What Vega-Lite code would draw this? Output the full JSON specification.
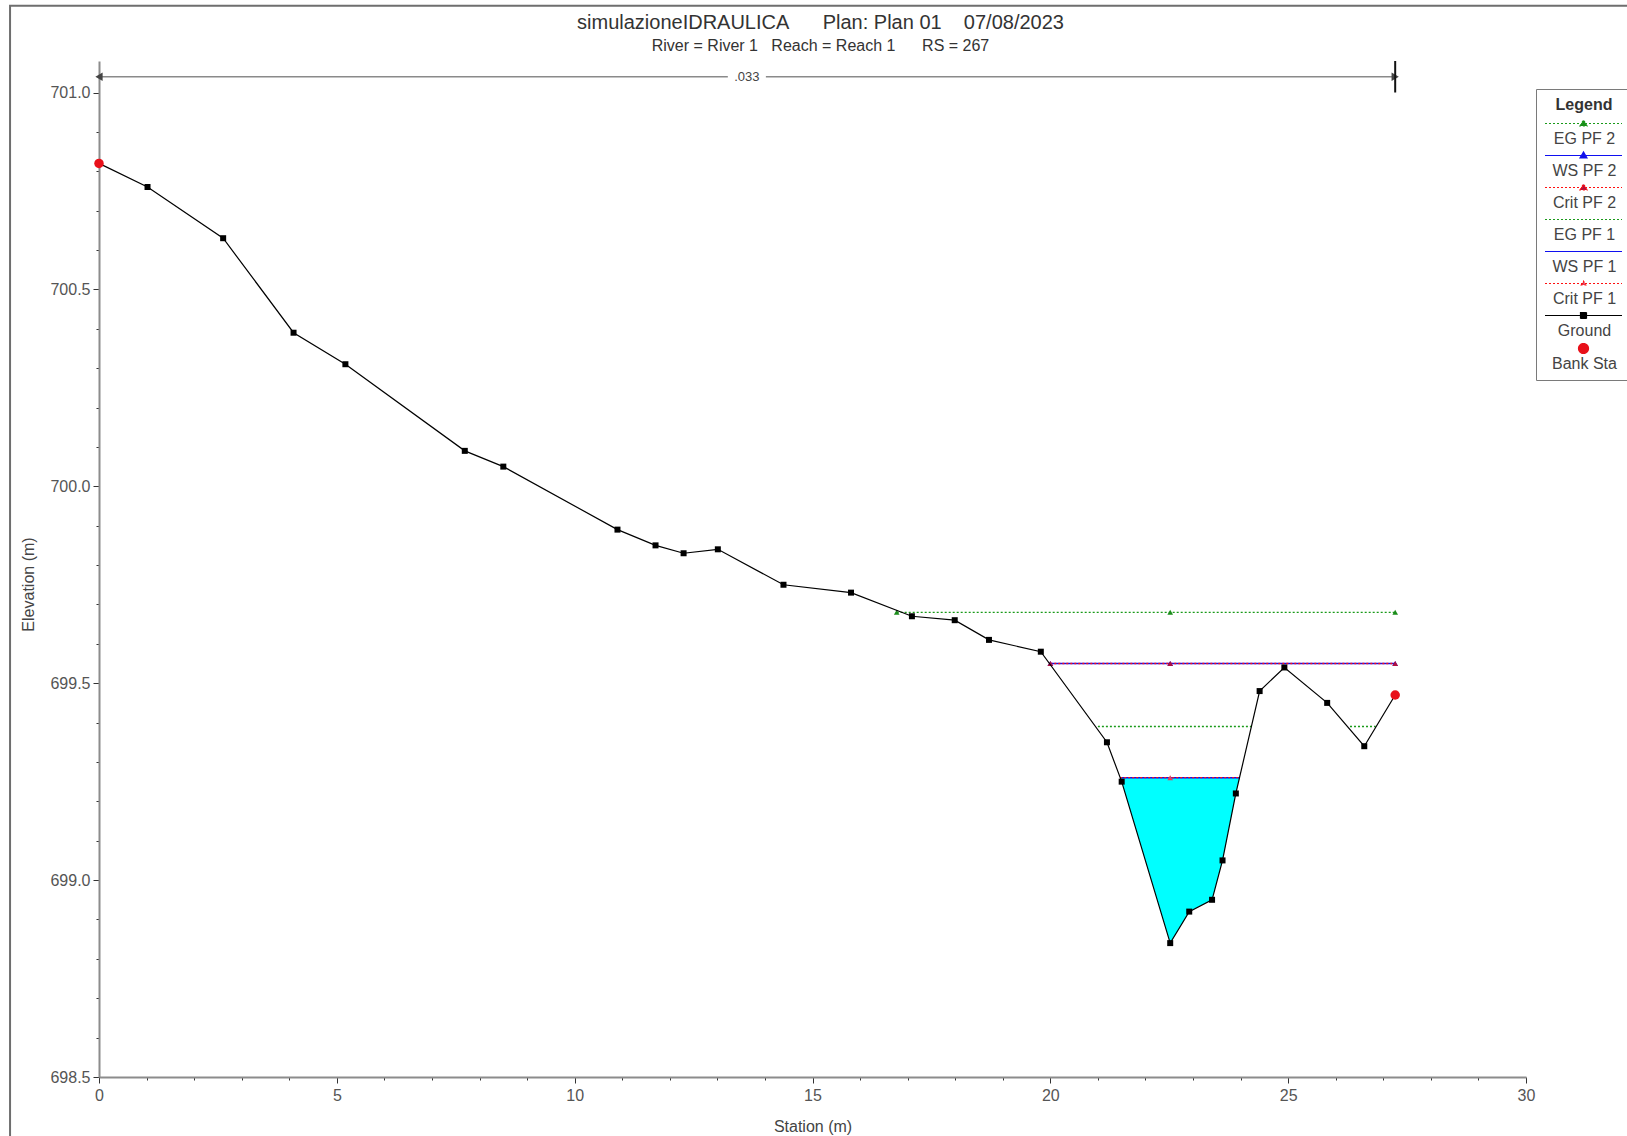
{
  "$schema": "https://vega.github.io/schema/vega-lite/v6.json",
  "width": 1427,
  "height": 1016,
  "autosize": {"type": "none"},
  "padding": {"left": 99, "top": 61, "right": 101, "bottom": 59},
  "background": "white",
  "title": {
    "text": "simulazioneIDRAULICA\u00a0\u00a0\u00a0\u00a0\u00a0\u00a0Plan: Plan 01\u00a0\u00a0\u00a0\u00a007/08/2023",
    "subtitle": "River = River 1\u00a0\u00a0\u00a0Reach = Reach 1\u00a0\u00a0\u00a0\u00a0\u00a0\u00a0RS = 267",
    "frame": "group",
    "anchor": "middle",
    "dx": 8,
    "dy": 56,
    "offset": 7,
    "font": "Liberation Sans",
    "fontSize": 20,
    "fontWeight": "normal",
    "color": "#333333",
    "subtitleFont": "Liberation Sans",
    "subtitleFontSize": 16,
    "subtitleColor": "#333333",
    "subtitlePadding": 5
  },
  "datasets": {
    "ground": [
      {"station": 0, "elev": 700.82},
      {"station": 1.02, "elev": 700.76},
      {"station": 2.61, "elev": 700.63},
      {"station": 4.09, "elev": 700.39},
      {"station": 5.18, "elev": 700.31},
      {"station": 7.69, "elev": 700.09},
      {"station": 8.5, "elev": 700.05},
      {"station": 10.9, "elev": 699.89},
      {"station": 11.7, "elev": 699.85},
      {"station": 12.29, "elev": 699.83},
      {"station": 13.01, "elev": 699.84},
      {"station": 14.39, "elev": 699.75},
      {"station": 15.81, "elev": 699.73},
      {"station": 17.09, "elev": 699.67},
      {"station": 17.99, "elev": 699.66},
      {"station": 18.71, "elev": 699.61},
      {"station": 19.8, "elev": 699.58},
      {"station": 21.19, "elev": 699.35},
      {"station": 21.5, "elev": 699.25},
      {"station": 22.52, "elev": 698.84},
      {"station": 22.92, "elev": 698.92},
      {"station": 23.4, "elev": 698.95},
      {"station": 23.62, "elev": 699.05},
      {"station": 23.9, "elev": 699.22},
      {"station": 24.4, "elev": 699.48},
      {"station": 24.92, "elev": 699.54},
      {"station": 25.82, "elev": 699.45},
      {"station": 26.6, "elev": 699.34},
      {"station": 27.25, "elev": 699.47}
    ],
    "bank": [
      {"station": 0, "elev": 700.82},
      {"station": 27.25, "elev": 699.47}
    ],
    "flow": [
      {"station": 21.47, "elev": 699.26, "wsel": 699.26},
      {"station": 21.5, "elev": 699.25, "wsel": 699.26},
      {"station": 22.52, "elev": 698.84, "wsel": 699.26},
      {"station": 22.92, "elev": 698.92, "wsel": 699.26},
      {"station": 23.4, "elev": 698.95, "wsel": 699.26},
      {"station": 23.62, "elev": 699.05, "wsel": 699.26},
      {"station": 23.9, "elev": 699.22, "wsel": 699.26},
      {"station": 23.98, "elev": 699.26, "wsel": 699.26}
    ],
    "ws": [
      {"series": "WS PF 2", "station": 20.0, "elev": 699.55},
      {"series": "WS PF 2", "station": 27.25, "elev": 699.55},
      {"series": "WS PF 1", "station": 21.47, "elev": 699.26},
      {"series": "WS PF 1", "station": 23.98, "elev": 699.26}
    ],
    "dotted": [
      {"series": "EG PF 2", "seg": 1, "station": 16.77, "elev": 699.68},
      {"series": "EG PF 2", "seg": 1, "station": 27.25, "elev": 699.68},
      {"series": "Crit PF 2", "seg": 1, "station": 20.0, "elev": 699.55},
      {"series": "Crit PF 2", "seg": 1, "station": 27.25, "elev": 699.55},
      {"series": "EG PF 1", "seg": 1, "station": 21.0, "elev": 699.39},
      {"series": "EG PF 1", "seg": 1, "station": 24.23, "elev": 699.39},
      {"series": "EG PF 1", "seg": 2, "station": 26.3, "elev": 699.39},
      {"series": "EG PF 1", "seg": 2, "station": 26.84, "elev": 699.39},
      {"series": "Crit PF 1", "seg": 1, "station": 21.47, "elev": 699.26},
      {"series": "Crit PF 1", "seg": 1, "station": 23.98, "elev": 699.26}
    ],
    "markers": [
      {"series": "EG PF 2", "station": 16.77, "elev": 699.68},
      {"series": "EG PF 2", "station": 22.52, "elev": 699.68},
      {"series": "EG PF 2", "station": 27.25, "elev": 699.68},
      {"series": "WS PF 2", "station": 20.0, "elev": 699.55},
      {"series": "WS PF 2", "station": 22.52, "elev": 699.55},
      {"series": "WS PF 2", "station": 27.25, "elev": 699.55},
      {"series": "Crit PF 2", "station": 20.0, "elev": 699.55},
      {"series": "Crit PF 2", "station": 22.52, "elev": 699.55},
      {"series": "Crit PF 2", "station": 27.25, "elev": 699.55},
      {"series": "Crit PF 1", "station": 22.52, "elev": 699.26}
    ],
    "mann_line": [
      {"station": 0, "station_end": 13.22, "elev": 701.04},
      {"station": 14.02, "station_end": 27.25, "elev": 701.04}
    ],
    "mann_label": [
      {"label": ".033", "station": 13.62, "elev": 701.04}
    ],
    "mann_left": [{"station": 0, "elev": 701.04}],
    "mann_right": [{"station": 27.25, "elev": 701.04}],
    "mann_bound": [{"station": 27.25, "elev": 701.0, "elev_top": 701.08}]
  },
  "layer": [
    {
      "data": {"values": []},
      "mark": {"type": "point", "filled": true, "opacity": 1},
      "encoding": {
        "fill": {
          "field": "series",
          "type": "nominal",
          "scale": {
            "domain": ["EG PF 2", "WS PF 2", "Crit PF 2", "EG PF 1", "WS PF 1", "Crit PF 1", "Ground", "Bank Sta"],
            "range": ["#1a8c1a", "#1010e0", "#b01040", "#1a8c1a", "#1010e0", "#e04060", "#000000", "#e8101a"]
          },
          "legend": {
            "title": "Legend", "orient": "none", "legendX": 1437, "legendY": 28,
            "symbolSize": 100, "symbolStrokeWidth": 1.2, "symbolOpacity": 1, "symbolOffset": 31.5,
            "labelOffset": -7, "labelAlign": "center", "labelBaseline": "top",
            "labelFont": "Liberation Sans", "labelFontSize": 16, "labelColor": "#444444", "labelLimit": 200,
            "titleFont": "Liberation Sans", "titleFontSize": 16, "titleFontWeight": "bold", "titleColor": "#333333",
            "titleAnchor": "middle", "titlePadding": 10,
            "strokeColor": "#7a7a7a", "fillColor": "#ffffff", "padding": 8, "rowPadding": 2
          }
        },
        "stroke": {
          "field": "series",
          "type": "nominal",
          "scale": {
            "domain": ["EG PF 2", "WS PF 2", "Crit PF 2", "EG PF 1", "WS PF 1", "Crit PF 1", "Ground", "Bank Sta"],
            "range": ["#1a9a1a", "#1010f0", "#ff1010", "#1a9a1a", "#1010f0", "#ff1010", "#000000", "#e8101a"]
          },
          "legend": {
            "title": "Legend", "orient": "none", "legendX": 1437, "legendY": 28,
            "symbolSize": 100, "symbolStrokeWidth": 1.2, "symbolOpacity": 1, "symbolOffset": 31.5,
            "labelOffset": -7, "labelAlign": "center", "labelBaseline": "top",
            "labelFont": "Liberation Sans", "labelFontSize": 16, "labelColor": "#444444", "labelLimit": 200,
            "titleFont": "Liberation Sans", "titleFontSize": 16, "titleFontWeight": "bold", "titleColor": "#333333",
            "titleAnchor": "middle", "titlePadding": 10,
            "strokeColor": "#7a7a7a", "fillColor": "#ffffff", "padding": 8, "rowPadding": 2
          }
        },
        "shape": {
          "field": "series",
          "type": "nominal",
          "scale": {
            "domain": ["EG PF 2", "WS PF 2", "Crit PF 2", "EG PF 1", "WS PF 1", "Crit PF 1", "Ground", "Bank Sta"],
            "range": [
              "M0,-2.2M-7.7,-1.5H7.7M-0.7,-1.0L0,-2.2L0.7,-1.0Z",
              "M0,-2.2M-7.7,-1.5H7.7M-0.7,-1.0L0,-2.2L0.7,-1.0Z",
              "M0,-2.2M-7.7,-1.5H7.7M-0.7,-1.0L0,-2.2L0.7,-1.0Z",
              "M0,-2.2M-7.7,-1.5H7.7",
              "M0,-2.2M-7.7,-1.5H7.7",
              "M0,-2.2M-7.7,-1.5H7.7M-0.45,-1.2L0,-1.95L0.45,-1.2Z",
              "M0,-2.2M-7.7,-1.5H7.7M-0.6,-2.1H0.6V-0.9H-0.6Z",
              "M0,-2.2M1,-1.5A1,1 0 1 1 -1,-1.5A1,1 0 1 1 1,-1.5Z"
            ]
          },
          "legend": {
            "title": "Legend", "orient": "none", "legendX": 1437, "legendY": 28,
            "symbolSize": 100, "symbolStrokeWidth": 1.2, "symbolOpacity": 1, "symbolOffset": 31.5,
            "labelOffset": -7, "labelAlign": "center", "labelBaseline": "top",
            "labelFont": "Liberation Sans", "labelFontSize": 16, "labelColor": "#444444", "labelLimit": 200,
            "titleFont": "Liberation Sans", "titleFontSize": 16, "titleFontWeight": "bold", "titleColor": "#333333",
            "titleAnchor": "middle", "titlePadding": 10,
            "strokeColor": "#7a7a7a", "fillColor": "#ffffff", "padding": 8, "rowPadding": 2
          }
        },
        "strokeDash": {
          "field": "series",
          "type": "nominal",
          "scale": {
            "domain": ["EG PF 2", "WS PF 2", "Crit PF 2", "EG PF 1", "WS PF 1", "Crit PF 1", "Ground", "Bank Sta"],
            "range": [[2, 2], [1, 0], [2, 2], [2, 2], [1, 0], [2, 2], [1, 0], [1, 0]]
          },
          "legend": {
            "title": "Legend", "orient": "none", "legendX": 1437, "legendY": 28,
            "symbolSize": 100, "symbolStrokeWidth": 1.2, "symbolOpacity": 1, "symbolOffset": 31.5,
            "labelOffset": -7, "labelAlign": "center", "labelBaseline": "top",
            "labelFont": "Liberation Sans", "labelFontSize": 16, "labelColor": "#444444", "labelLimit": 200,
            "titleFont": "Liberation Sans", "titleFontSize": 16, "titleFontWeight": "bold", "titleColor": "#333333",
            "titleAnchor": "middle", "titlePadding": 10,
            "strokeColor": "#7a7a7a", "fillColor": "#ffffff", "padding": 8, "rowPadding": 2
          }
        }
      }
    },
    {
      "data": {"values": [{}]},
      "mark": {"type": "rect", "fill": "transparent", "stroke": "#6e6e6e", "strokeWidth": 2},
      "encoding": {
        "x": {"datum": -1.87, "type": "quantitative"},
        "x2": {"datum": 33},
        "y": {"datum": 701.22, "type": "quantitative"},
        "y2": {"datum": 698.3}
      }
    },
    {
      "data": {"name": "flow"},
      "mark": {"type": "area", "fill": "#00ffff", "opacity": 1},
      "encoding": {
        "x": {"field": "station", "type": "quantitative"},
        "y": {"field": "elev", "type": "quantitative"},
        "y2": {"field": "wsel"}
      }
    },
    {
      "data": {"name": "ws"},
      "mark": {"type": "line", "strokeWidth": 1.6},
      "encoding": {
        "x": {"field": "station", "type": "quantitative"},
        "y": {"field": "elev", "type": "quantitative"},
        "stroke": {"field": "series", "type": "nominal", "legend": null}
      }
    },
    {
      "data": {"name": "dotted"},
      "mark": {"type": "line", "strokeWidth": 1.3, "strokeDash": [2, 2]},
      "encoding": {
        "x": {"field": "station", "type": "quantitative"},
        "y": {"field": "elev", "type": "quantitative"},
        "stroke": {"field": "series", "type": "nominal", "legend": null},
        "detail": {"field": "seg", "type": "nominal"}
      }
    },
    {
      "data": {"name": "markers"},
      "mark": {"type": "point", "shape": "triangle-up", "filled": true, "size": 32, "opacity": 1},
      "encoding": {
        "x": {"field": "station", "type": "quantitative"},
        "y": {"field": "elev", "type": "quantitative"},
        "fill": {"field": "series", "type": "nominal", "legend": null}
      }
    },
    {
      "data": {"name": "ground"},
      "mark": {"type": "line", "color": "#000000", "strokeWidth": 1.2},
      "encoding": {
        "x": {
          "field": "station",
          "type": "quantitative",
          "scale": {"domain": [0, 30], "nice": false, "zero": false},
          "axis": {
            "title": "Station (m)",
            "values": [0,1,2,3,4,5,6,7,8,9,10,11,12,13,14,15,16,17,18,19,20,21,22,23,24,25,26,27,28,29,30],
            "labelExpr": "datum.value % 5 === 0 ? datum.label : ''",
            "tickSize": {"condition": {"test": "datum.value % 5 === 0", "value": 6}, "value": 3},
            "grid": false,
            "domainColor": "#8c8c8c",
            "domainWidth": 2,
            "tickColor": "#333333",
            "tickWidth": 1,
            "labelFont": "Liberation Sans",
            "labelFontSize": 16,
            "labelColor": "#555555",
            "labelPadding": 4,
            "labelFlush": false,
            "labelOverlap": false,
            "titleFont": "Liberation Sans",
            "titleFontSize": 16,
            "titleFontWeight": "normal",
            "titleColor": "#444444",
            "titleY": 49,
            "titleBaseline": "middle"
          }
        },
        "y": {
          "field": "elev",
          "type": "quantitative",
          "scale": {"domain": [698.5, 701.08], "nice": false, "zero": false},
          "axis": {
            "title": "Elevation (m)",
            "values": [698.5,698.6,698.7,698.8,698.9,699.0,699.1,699.2,699.3,699.4,699.5,699.6,699.7,699.8,699.9,700.0,700.1,700.2,700.3,700.4,700.5,700.6,700.7,700.8,700.9,701.0],
            "labelExpr": "abs(datum.value * 2 - round(datum.value * 2)) < 0.001 ? format(datum.value, '.1f') : ''",
            "tickSize": {"condition": {"test": "abs(datum.value * 2 - round(datum.value * 2)) < 0.001", "value": 6}, "value": 3},
            "grid": false,
            "domainColor": "#8c8c8c",
            "domainWidth": 2,
            "tickColor": "#333333",
            "tickWidth": 1,
            "labelFont": "Liberation Sans",
            "labelFontSize": 16,
            "labelColor": "#555555",
            "labelPadding": 3,
            "labelFlush": false,
            "labelOverlap": false,
            "titleFont": "Liberation Sans",
            "titleFontSize": 16,
            "titleFontWeight": "normal",
            "titleColor": "#444444",
            "titleX": -71,
            "titleY": 523,
            "titleBaseline": "middle",
            "titleAlign": "center"
          }
        }
      }
    },
    {
      "data": {"name": "ground"},
      "mark": {"type": "point", "shape": "square", "filled": true, "color": "#000000", "size": 36, "opacity": 1},
      "encoding": {
        "x": {"field": "station", "type": "quantitative"},
        "y": {"field": "elev", "type": "quantitative"}
      }
    },
    {
      "data": {"name": "bank"},
      "mark": {"type": "point", "shape": "circle", "filled": true, "color": "#e8101a", "size": 90, "opacity": 1},
      "encoding": {
        "x": {"field": "station", "type": "quantitative"},
        "y": {"field": "elev", "type": "quantitative"}
      }
    },
    {
      "data": {"name": "mann_line"},
      "mark": {"type": "rule", "color": "#8a8a8a", "strokeWidth": 1.5},
      "encoding": {
        "x": {"field": "station", "type": "quantitative"},
        "x2": {"field": "station_end"},
        "y": {"field": "elev", "type": "quantitative"}
      }
    },
    {
      "data": {"name": "mann_label"},
      "mark": {"type": "text", "font": "Liberation Sans", "fontSize": 13, "color": "#444444", "baseline": "middle", "align": "center"},
      "encoding": {
        "x": {"field": "station", "type": "quantitative"},
        "y": {"field": "elev", "type": "quantitative"},
        "text": {"field": "label"}
      }
    },
    {
      "data": {"name": "mann_left"},
      "mark": {"type": "point", "shape": "triangle-left", "filled": true, "color": "#444444", "size": 70, "opacity": 1},
      "encoding": {
        "x": {"field": "station", "type": "quantitative"},
        "y": {"field": "elev", "type": "quantitative"}
      }
    },
    {
      "data": {"name": "mann_right"},
      "mark": {"type": "point", "shape": "triangle-right", "filled": true, "color": "#444444", "size": 70, "opacity": 1},
      "encoding": {
        "x": {"field": "station", "type": "quantitative"},
        "y": {"field": "elev", "type": "quantitative"}
      }
    },
    {
      "data": {"name": "mann_bound"},
      "mark": {"type": "rule", "color": "#111111", "strokeWidth": 2},
      "encoding": {
        "x": {"field": "station", "type": "quantitative"},
        "y": {"field": "elev", "type": "quantitative"},
        "y2": {"field": "elev_top"}
      }
    }
  ],
  "config": {
    "view": {"stroke": null},
    "axis": {"grid": false}
  }
}
